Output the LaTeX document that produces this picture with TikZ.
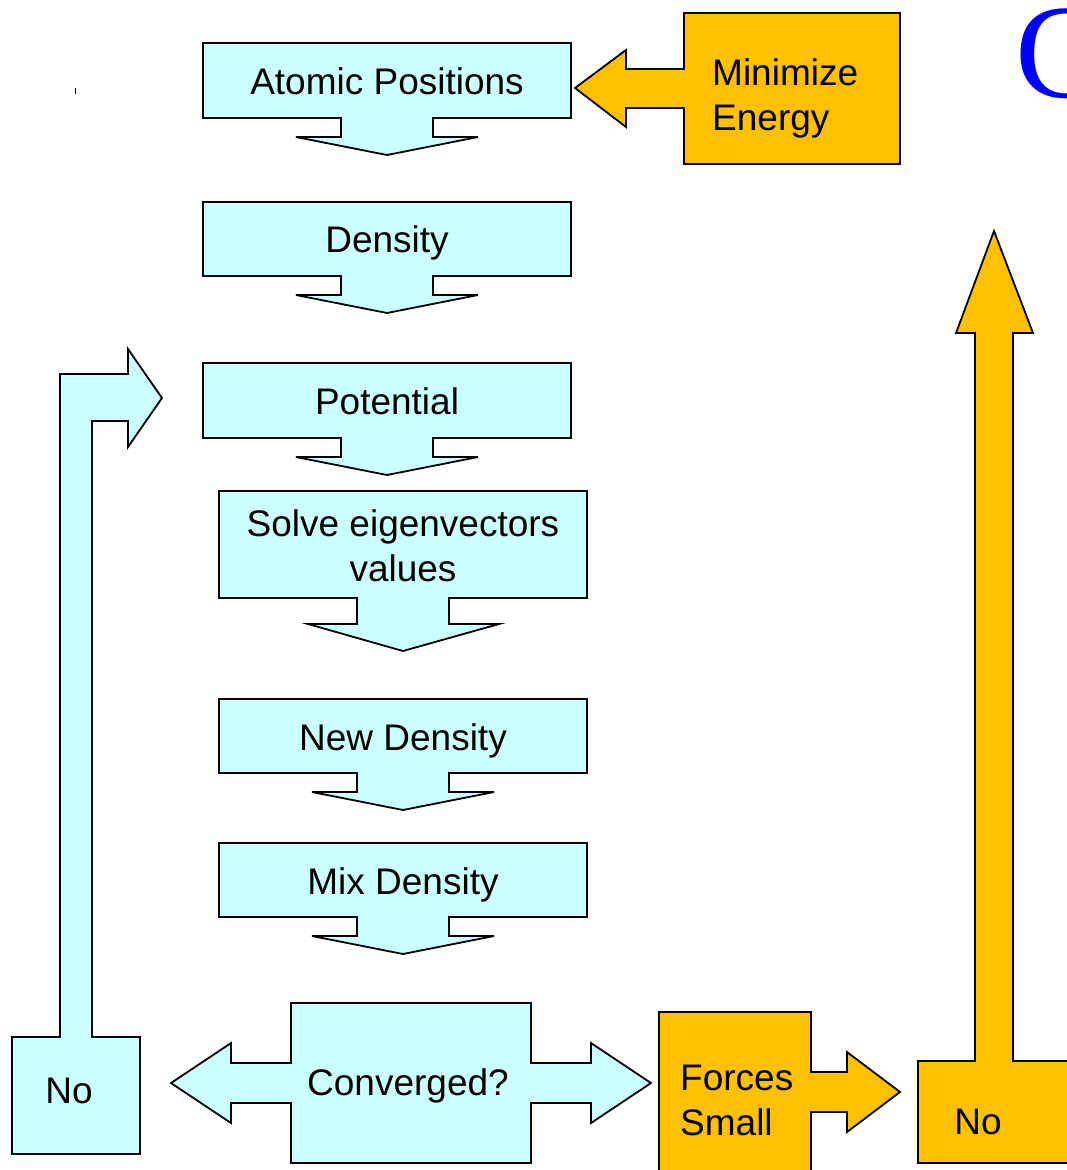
\documentclass[tikz,border=0pt]{standalone}
\usepackage{fontspec}
\setmainfont{Liberation Sans}
\newfontfamily\serifC{Liberation Serif}
\definecolor{cyanfill}{HTML}{CCFFFF}
\definecolor{orangefill}{HTML}{FFC000}
\definecolor{letterblue}{HTML}{0000FF}
\begin{document}
\begin{tikzpicture}[x=1pt,y=-1pt,
  cyanshape/.style={fill=cyanfill,draw=black,line width=1.8pt,line join=miter},
  orangeshape/.style={fill=orangefill,draw=black,line width=1.8pt,line join=miter},
  lbl/.style={font=\fontsize{37}{45}\selectfont,inner sep=0pt,align=center,text=black},
  lbll/.style={font=\fontsize{37}{45}\selectfont,inner sep=0pt,align=left,text=black,anchor=west}]
\useasboundingbox (0,0) rectangle (1067,1170);
% Atomic Positions
\path[cyanshape] (203,43)--(571,43)--(571,118)--(433,118)--(433,137)--(478,137)--(387,155)--(296,137)--(341,137)--(341,118)--(203,118)--cycle;
\node[lbl] (atomic) at (387,81) {Atomic Positions};
% Density
\path[cyanshape] (203,202)--(571,202)--(571,276)--(433,276)--(433,295)--(478,295)--(387,313)--(296,295)--(341,295)--(341,276)--(203,276)--cycle;
\node[lbl] (density) at (387,243) {Density};
% Potential
\path[cyanshape] (203,363)--(571,363)--(571,438)--(433,438)--(433,457)--(478,457)--(387,475)--(296,457)--(341,457)--(341,438)--(203,438)--cycle;
\node[lbl] (potential) at (387,401) {Potential};
% Solve
\path[cyanshape] (219,491)--(587,491)--(587,598)--(449,598)--(449,624)--(499,624)--(403,651)--(308,624)--(357,624)--(357,598)--(219,598)--cycle;
\node[lbl] (solve) at (403,546) {Solve eigenvectors\\values};
% New Density
\path[cyanshape] (219,699)--(587,699)--(587,773)--(449,773)--(449,792)--(494,792)--(403,810)--(312,792)--(357,792)--(357,773)--(219,773)--cycle;
\node[lbl] (newdens) at (403,741) {New Density};
% Mix Density
\path[cyanshape] (219,843)--(587,843)--(587,917)--(449,917)--(449,936)--(494,936)--(403,954)--(312,936)--(357,936)--(357,917)--(219,917)--cycle;
\node[lbl] (mixdens) at (403,885) {Mix Density};
% Converged?
\path[cyanshape] (291,1003)--(531,1003)--(531,1063)--(591,1063)--(591,1043)--(651,1083)--(591,1123)--(591,1103)--(531,1103)--(531,1163)--(291,1163)--(291,1103)--(231,1103)--(231,1123)--(171,1083)--(231,1043)--(231,1063)--(291,1063)--cycle;
\node[lbl] (conv) at (408,1086) {Converged?};
% No (left) with bent arrow
\path[cyanshape] (12,1037)--(60,1037)--(60,374)--(128,374)--(128,349)--(162,398)--(128,447)--(128,421)--(92,421)--(92,1037)--(140,1037)--(140,1154)--(12,1154)--cycle;
\node[lbl] (noleft) at (69,1091) {No};
% Minimize Energy
\path[orangeshape] (684,13)--(900,13)--(900,164)--(684,164)--(684,108)--(626,108)--(626,127)--(575,88)--(626,50)--(626,69)--(684,69)--cycle;
\node[lbll] (minimize) at (712,98) {Minimize\\Energy};
% Forces Small
\path[orangeshape] (659,1175)--(659,1012)--(811,1012)--(811,1072)--(847,1072)--(847,1052)--(900,1092)--(847,1132)--(847,1112)--(811,1112)--(811,1175);
\node[lbll] (forces) at (680,1100) {Forces\\Small};
% No (right) with up arrow
\path[orangeshape] (1075,1061)--(1013,1061)--(1013,333)--(1033,333)--(994,231)--(956,333)--(975,333)--(975,1061)--(918,1061)--(918,1163)--(1075,1163);
\node[lbl] (noright) at (978,1122) {No};
% Partial blue letter
\node[font=\serifC\fontsize{134}{134}\selectfont,text=letterblue,inner sep=0pt,anchor=base west] (letterC) at (1015,97) {C};
% stray mark
\draw[line width=1pt] (75.5,88) -- (75.5,94);
\end{tikzpicture}
\end{document}
